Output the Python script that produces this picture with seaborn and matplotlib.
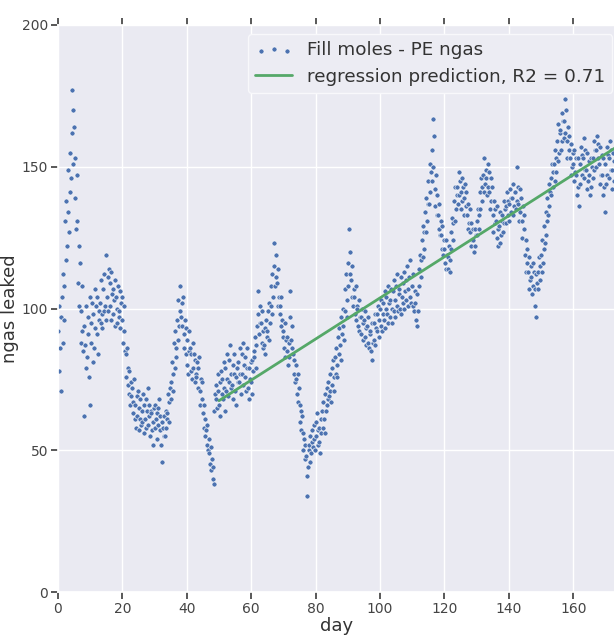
import numpy as np
import pandas as pd
import matplotlib
matplotlib.use("Agg")
import matplotlib.pyplot as plt
import seaborn as sns

# ---- data (5 readings per day, days 0..172) ----
leaked = [
    92, 78, 101, 86, 97,
    71, 104, 88, 112, 96,
    108, 131, 117, 138, 122,
    134, 149, 127, 155, 141,
    146, 177, 162, 151, 170,
    164, 139, 153, 128, 147,
    131, 109, 122, 101, 116,
    99, 88, 108, 92, 85,
    94, 62, 87, 101, 79,
    83, 97, 91, 76, 104,
    66, 95, 88, 102, 81,
    98, 86, 107, 93, 101,
    91, 104, 84, 99, 96,
    102, 95, 110, 98, 93,
    107, 99, 112, 101, 96,
    119, 104, 111, 99, 114,
    101, 109, 96, 113, 105,
    98, 107, 103, 94, 110,
    104, 95, 100, 108, 97,
    99, 106, 93, 102, 104,
    96, 88, 101, 92, 85,
    84, 76, 86, 73, 79,
    70, 78, 66, 74, 69,
    72, 63, 67, 75, 61,
    66, 58, 69, 62, 71,
    57, 65, 61, 68, 59,
    64, 60, 70, 56, 66,
    61, 68, 58, 64, 72,
    59, 66, 62, 55, 64,
    63, 57, 60, 52, 65,
    58, 66, 61, 54, 63,
    65, 59, 68, 57, 62,
    52, 60, 46, 58, 55,
    62, 55, 64, 58, 61,
    63, 70, 60, 67, 72,
    74, 68, 81, 77, 71,
    88, 79, 92, 83, 86,
    96, 89, 103, 94, 99,
    108, 97, 102, 94, 104,
    91, 86, 96, 84, 93,
    80, 89, 77, 92, 85,
    86, 78, 84, 75, 88,
    79, 84, 74, 82, 77,
    76, 81, 72, 79, 83,
    71, 66, 75, 68, 74,
    63, 58, 66, 55, 61,
    57, 52, 59, 50, 54,
    49, 45, 51, 43, 47,
    44, 40, 38, 64, 70,
    68, 73, 65, 77, 71,
    66, 74, 62, 78, 70,
    75, 68, 81, 72, 64,
    79, 71, 84, 75, 69,
    82, 74, 87, 77, 72,
    73, 80, 68, 77, 84,
    71, 76, 66, 79, 74,
    81, 74, 86, 77, 70,
    84, 77, 88, 73, 80,
    76, 83, 71, 79, 86,
    72, 79, 68, 75, 81,
    74, 82, 70, 78, 85,
    83, 90, 79, 87, 94,
    98, 106, 91, 101, 95,
    95, 88, 99, 86, 92,
    87, 93, 84, 96, 90,
    92, 99, 89, 102, 95,
    101, 108, 98, 112, 104,
    115, 123, 108, 119, 111,
    109, 101, 114, 104, 98,
    101, 94, 104, 96, 90,
    92, 86, 95, 83, 89,
    85, 90, 80, 88, 83,
    97, 106, 89, 94, 86,
    84, 77, 82, 74, 80,
    75, 70, 77, 67, 72,
    66, 60, 64, 57, 62,
    56, 50, 54, 47, 52,
    48, 41, 34, 44, 50,
    52, 46, 55, 49, 53,
    57, 51, 59, 54, 50,
    60, 55, 63, 57, 52,
    53, 58, 49, 61, 56,
    64, 58, 67, 61, 56,
    70, 64, 72, 66, 68,
    74, 69, 77, 71, 67,
    79, 73, 82, 76, 71,
    83, 77, 86, 80, 76,
    90, 84, 93, 87, 82,
    97, 91, 100, 94, 89,
    107, 99, 112, 103, 97,
    116, 108, 128, 112, 120,
    110, 104, 115, 101, 107,
    104, 98, 108, 96, 101,
    100, 94, 103, 92, 97,
    97, 91, 100, 89, 95,
    96, 90, 99, 87, 93,
    94, 88, 97, 86, 91,
    92, 85, 82, 95, 88,
    95, 89, 98, 87, 93,
    98, 92, 101, 90, 96,
    100, 94, 103, 92, 98,
    102, 96, 106, 93, 100,
    104, 98, 108, 95, 102,
    103, 97, 107, 95, 100,
    106, 99, 110, 97, 103,
    108, 101, 112, 99, 105,
    107, 100, 111, 98, 104,
    109, 102, 113, 100, 106,
    110, 103, 115, 101, 107,
    111, 104, 117, 102, 108,
    108, 101, 112, 99, 106,
    102, 96, 94, 105, 99,
    114, 108, 119, 111, 117,
    124, 118, 129, 121, 127,
    134, 127, 139, 131, 137,
    145, 137, 151, 141, 148,
    156, 145, 167, 150, 161,
    142, 136, 147, 133, 140,
    133, 128, 137, 126, 131,
    126, 121, 129, 119, 124,
    121, 116, 124, 114, 119,
    118, 114, 122, 113, 117,
    127, 121, 132, 124, 130,
    138, 131, 143, 135, 140,
    143, 137, 148, 140, 145,
    141, 135, 146, 138, 143,
    139, 133, 144, 136, 141,
    133, 128, 137, 130, 135,
    127, 122, 130, 124, 128,
    124, 120, 128, 122, 126,
    131, 126, 135, 128, 133,
    141, 135, 146, 138, 143,
    147, 141, 153, 144, 149,
    146, 140, 151, 143, 148,
    141, 135, 146, 138, 143,
    133, 127, 138, 130, 135,
    131, 125, 136, 128, 122,
    129, 123, 134, 126, 131,
    133, 127, 138, 130, 135,
    136, 130, 141, 133, 138,
    137, 131, 142, 134, 139,
    139, 133, 144, 136, 141,
    141, 135, 150, 138, 143,
    137, 131, 142, 134, 139,
    131, 125, 136, 128, 133,
    119, 113, 124, 116, 121,
    113, 107, 118, 110, 115,
    111, 105, 116, 108, 113,
    107, 101, 112, 97, 109,
    113, 107, 118, 110, 115,
    119, 113, 124, 116, 121,
    129, 123, 134, 126, 131,
    139, 133, 144, 136, 141,
    146, 140, 151, 143, 148,
    151, 145, 156, 148, 153,
    159, 152, 165, 155, 162,
    163, 156, 169, 159, 166,
    166, 160, 174, 162, 170,
    159, 153, 164, 156, 161,
    153, 147, 158, 150, 155,
    151, 145, 156, 148, 153,
    147, 140, 153, 143, 136,
    151, 144, 157, 147, 154,
    153, 146, 160, 149, 156,
    149, 142, 155, 145, 152,
    147, 140, 153, 143, 150,
    153, 146, 159, 149, 156,
    156, 150, 161, 153, 158,
    151, 144, 157, 147, 154,
    147, 140, 153, 143, 134,
    151, 144, 157, 147, 154,
    153, 146, 159, 149, 156,
    149, 142, 155, 145, 152,
]
readings_per_day = 5
day = np.arange(len(leaked)) / readings_per_day

fit_start_day = 50
scatter_label = "Fill moles - PE ngas"
line_label = "regression prediction, R2 = 0.71"
x_ticks = [0, 20, 40, 60, 80, 100, 120, 140, 160]
y_ticks = [0, 50, 100, 150, 200]

df = pd.DataFrame({"day": day, "ngas leaked": leaked})
fit_df = df[df["day"] >= fit_start_day]
coef = np.polyfit(fit_df["day"], fit_df["ngas leaked"], 1)
pred_df = pd.DataFrame({"day": fit_df["day"],
                        "pred": np.polyval(coef, fit_df["day"])})

# ---- style ----
sns.set_theme(style="darkgrid")
plt.rcParams["font.family"] = ["DejaVu Sans"]

W, H = 614, 636
fig = plt.figure(figsize=(W / 100, H / 100), dpi=100)
px_per_day = 3.22
x_max = 173
ax = fig.add_axes([58 / W, (H - 592) / H, x_max * px_per_day / W, (592 - 25) / H])

blue = "#4C72B0"
green = "#55A868"

sns.scatterplot(data=df, x="day", y="ngas leaked", ax=ax, color=blue, s=13,
                edgecolor="white", linewidth=0.4, label=scatter_label, zorder=2)
sns.lineplot(data=pred_df, x="day", y="pred", ax=ax, color=green, lw=2,
             label=line_label, zorder=3)

ax.set_xlim(0, x_max)
ax.set_ylim(0, 200)
ax.set_xticks(x_ticks)
ax.set_yticks(y_ticks)
ax.xaxis.set_ticks_position("both")
ax.yaxis.set_ticks_position("left")
tick_kw = dict(which="major", direction="out", length=5, width=1.25,
               color="#444444", labelsize=10, pad=2, labelcolor="#444444")
ax.tick_params(axis="x", bottom=True, top=True, **tick_kw)
ax.tick_params(axis="y", left=True, **tick_kw)
for t in ax.xaxis.get_major_ticks() + ax.yaxis.get_major_ticks():
    t.tick1line.set_visible(True)
    t.tick1line.set_clip_on(False)
    t.tick1line.set_zorder(5)
for t in ax.xaxis.get_major_ticks():
    t.tick2line.set_visible(True)
    t.tick2line.set_clip_on(False)
    t.tick2line.set_zorder(5)

ax.set_xlabel("day", fontsize=13, color="#333333", labelpad=1)
ax.set_ylabel("ngas leaked", fontsize=13, color="#333333", labelpad=2)

leg = ax.legend(loc="upper left", bbox_to_anchor=(248 / W, 1 - 34 / H),
                bbox_transform=fig.transFigure, borderaxespad=0,
                fontsize=13.2, scatterpoints=3, handlelength=2.0,
                handletextpad=0.8, borderpad=0.4, labelspacing=0.45,
                frameon=True, facecolor="#ECECF3", edgecolor="#F8F8FB",
                framealpha=1.0, labelcolor="#333333")
for h in leg.legend_handles:
    try:
        h.set_sizes([13])
    except Exception:
        pass

fig.savefig("out.png", dpi=100)
